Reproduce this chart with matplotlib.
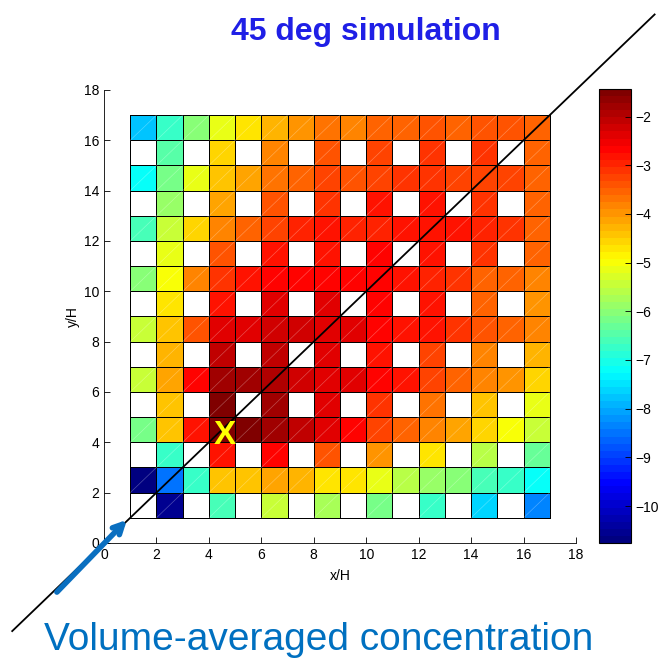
import numpy as np
import matplotlib.pyplot as plt
from matplotlib.collections import LineCollection
from matplotlib.colors import LinearSegmentedColormap

plt.rcParams['font.family'] = ['Liberation Sans', 'DejaVu Sans']

# log10 of volume-averaged concentration per cell, top row (y/H 16-17) first.
# None marks a building (no fluid volume).
n = None
conc = [
    [-7.84, -6.79, -5.98, -5.09, -4.74, -4.23, -4.04, -3.65, -3.88, -3.58, -3.53, -3.42, -3.49, -3.42, -3.35, -3.53],
    [n, -6.49, n, -4.63, n, -3.81, n, -3.42, n, -3.30, n, -3.07, n, -3.07, n, -3.53],
    [-7.26, -6.10, -5.21, -4.35, -4.11, -3.65, -3.53, -3.18, -3.35, -3.25, -3.11, -3.11, -3.18, -3.30, -3.18, -3.49],
    [n, -5.86, n, -4.07, n, -3.37, n, -3.07, n, -2.88, n, -2.83, n, -3.07, n, -3.53],
    [-6.56, -5.51, -4.51, -3.77, -3.53, -3.18, -3.02, -2.88, -3.02, -2.95, -2.88, -2.83, -2.88, -3.02, -3.11, -3.53],
    [n, -5.16, n, -3.37, n, -2.88, n, -2.76, n, -2.72, n, -2.88, n, -3.11, n, -3.58],
    [-5.98, -5.05, -3.88, -3.07, -2.88, -2.72, -2.72, -2.60, -2.60, -2.72, -2.88, -2.95, -3.11, -3.58, -3.53, -3.77],
    [n, -4.77, n, -2.79, n, -2.44, n, -2.44, n, -2.60, n, -2.88, n, -3.58, n, -4.00],
    [-5.51, -4.46, -3.42, -2.37, -2.37, -2.25, -2.20, -2.32, -2.41, -2.60, -2.79, -2.88, -3.07, -3.42, -3.49, -3.88],
    [n, -4.28, n, -2.13, n, -2.09, n, -2.32, n, -2.76, n, -3.18, n, -3.88, n, -4.28],
    [-5.51, -4.18, -2.72, -1.85, -1.85, -1.95, -2.18, -2.32, -2.41, -2.72, -2.88, -3.18, -3.53, -3.88, -4.04, -4.58],
    [n, -4.46, n, -1.43, n, -1.78, n, -2.37, n, -3.07, n, -3.65, n, -4.35, n, -5.16],
    [-6.21, -4.46, -2.83, -1.43, -1.45, -1.78, -2.09, -2.37, -2.72, -3.18, -3.53, -3.77, -4.18, -4.58, -5.05, -5.51],
    [n, -6.68, n, -2.88, n, -2.60, n, -3.42, n, -4.04, n, -4.77, n, -5.58, n, -6.33],
    [-10.76, -8.43, -6.79, -4.46, -4.35, -4.18, -4.30, -4.65, -4.74, -5.21, -5.58, -5.86, -6.05, -6.56, -6.79, -7.26],
    [n, -10.53, n, -6.56, n, -5.51, n, -5.68, n, -6.21, n, -6.79, n, -7.61, n, -8.31],
]
x_edges = np.arange(1, 18)
y_edges = np.arange(1, 18)
cbar_ticks = [-10, -9, -8, -7, -6, -5, -4, -3, -2]
source_xy = (4.62, 4.29)

C = np.array([[np.nan if v is None else v for v in row] for row in conc], dtype=float)[::-1]
C = np.ma.masked_invalid(C)

# MATLAB-style jet, 64 levels
jet_ml = LinearSegmentedColormap('jet_ml', {
    'red':   [(0, 0, 0), (0.375, 0, 0), (0.625, 1, 1), (0.875, 1, 1), (1, 0.5, 0.5)],
    'green': [(0, 0, 0), (0.125, 0, 0), (0.375, 1, 1), (0.625, 1, 1), (0.875, 0, 0), (1, 0, 0)],
    'blue':  [(0, 0.5, 0.5), (0.125, 1, 1), (0.375, 1, 1), (0.625, 0, 0), (1, 0, 0)],
}, N=64)

fig = plt.figure(figsize=(6.64, 6.63), dpi=100)
ax = fig.add_axes([0.1566, 0.181, 0.7108, 0.6833])
cax = fig.add_axes([0.902, 0.181, 0.048, 0.685])

mesh = ax.pcolormesh(x_edges, y_edges, C, cmap=jet_ml, vmin=C.min(), vmax=C.max(),
                     edgecolors='black', linewidth=0.6)

# faint diagonal seams across each filled cell
segs = []
for j in range(C.shape[0]):
    for i in range(C.shape[1]):
        if not C.mask[j, i]:
            segs.append([(x_edges[i], y_edges[j]), (x_edges[i + 1], y_edges[j + 1])])
ax.add_collection(LineCollection(segs, colors='white', linewidths=0.5, alpha=0.3))

ax.set_xlim(0, 18)
ax.set_ylim(0, 18)
ax.set_xticks(range(0, 19, 2))
ax.set_yticks(range(0, 19, 2))
ax.tick_params(direction='in', length=4, labelsize=10, width=0.6)
for s in ['top', 'right']:
    ax.spines[s].set_visible(False)
for s in ['left', 'bottom']:
    ax.spines[s].set_linewidth(0.6)
ax.set_xlabel('x/H', fontsize=10, labelpad=5)
ax.set_ylabel('y/H', fontsize=10, labelpad=3)

# 45 degree wind direction line and inflow arrow
ax.plot([-3.5, 21.0], [-3.5, 21.0], color='black', lw=1.3, clip_on=False)
ax.annotate('', xy=(0.95, 1.0), xytext=(-1.87, -2.03),
            arrowprops=dict(arrowstyle='->,head_length=0.7,head_width=0.35',
                            lw=4, color='#0a6fc0'),
            annotation_clip=False)
ax.text(source_xy[0], source_xy[1], 'X', color='#ffff00', fontsize=24,
        fontweight='bold', ha='center', va='center')

cb = fig.colorbar(mesh, cax=cax, ticks=cbar_ticks)
cb.ax.tick_params(direction='in', length=4, labelsize=10, width=0.6)
cb.outline.set_linewidth(0.8)

fig.text(0.551, 0.952, '45 deg simulation', ha='center', va='center',
         fontsize=23, fontweight='bold', color='#1f1fe6')
fig.text(0.48, 0.035, 'Volume-averaged concentration', ha='center', va='center',
         fontsize=28, color='#0070c0')

fig.savefig('out.png', dpi=100)
